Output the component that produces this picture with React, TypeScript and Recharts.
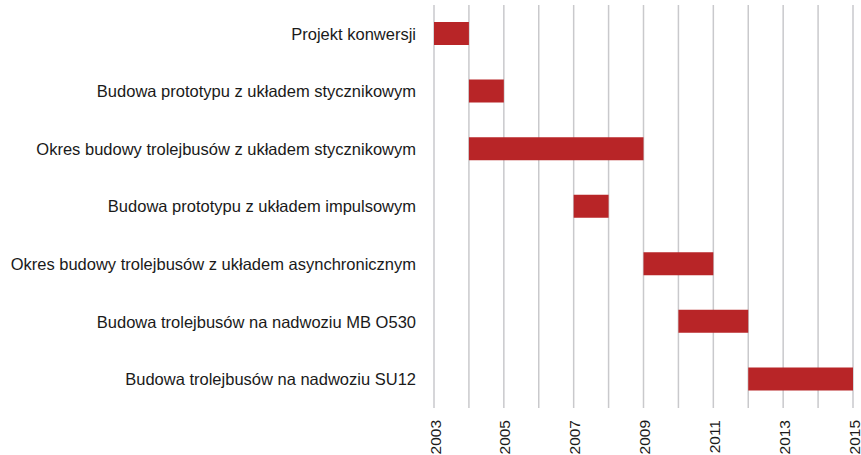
import { Bar, BarChart, CartesianGrid, XAxis, YAxis } from "recharts"

const tasks = [
  "Projekt konwersji",
  "Budowa prototypu z układem stycznikowym",
  "Okres budowy trolejbusów z układem stycznikowym",
  "Budowa prototypu z układem impulsowym",
  "Okres budowy trolejbusów z układem asynchronicznym",
  "Budowa trolejbusów na nadwoziu MB O530",
  "Budowa trolejbusów na nadwoziu SU12",
]
const startYears = [2003, 2004, 2004, 2007, 2009, 2010, 2012]
const endYears = [2004, 2005, 2009, 2008, 2011, 2012, 2015]
const yearTicks = [2003, 2004, 2005, 2006, 2007, 2008, 2009, 2010, 2011, 2012, 2013, 2014, 2015]

const data = tasks.map((name, i) => ({ name, range: [startYears[i], endYears[i]] }))

const FONT = "'Liberation Sans', Arial, sans-serif"

const YearTick = ({ x, y, payload }: any) => {
  if (payload.value % 2 === 0) return null
  return (
    <text
      x={x + 1}
      y={y + 4}
      transform={`rotate(-90 ${x + 1} ${y + 4})`}
      textAnchor="end"
      dominantBaseline="central"
      fontSize={15.5}
      fontFamily={FONT}
      fill="#1a1a1a"
    >
      {payload.value}
    </text>
  )
}

const App = () => {
  return (
    <div style={{ position: "absolute", left: 0, top: 0, background: "#fff" }}>
      <BarChart
        width={861}
        height={455}
        data={data}
        layout="vertical"
        margin={{ top: 5, right: 8, bottom: 0, left: 0 }}
      >
        <CartesianGrid horizontal={false} stroke="#c9c9cc" strokeWidth={1.5} />
        <XAxis
          type="number"
          domain={[2003, 2015]}
          ticks={yearTicks}
          interval={0}
          axisLine={false}
          tickLine={false}
          height={47}
          tick={<YearTick />}
        />
        <YAxis
          type="category"
          dataKey="name"
          width={434}
          axisLine={false}
          tickLine={false}
          tickMargin={12}
          tick={{ fontSize: 16.5, fontFamily: FONT, fill: "#1a1a1a" }}
        />
        <Bar dataKey="range" fill="#b82527" barSize={23} isAnimationActive={false} />
      </BarChart>
    </div>
  )
}

export default App
